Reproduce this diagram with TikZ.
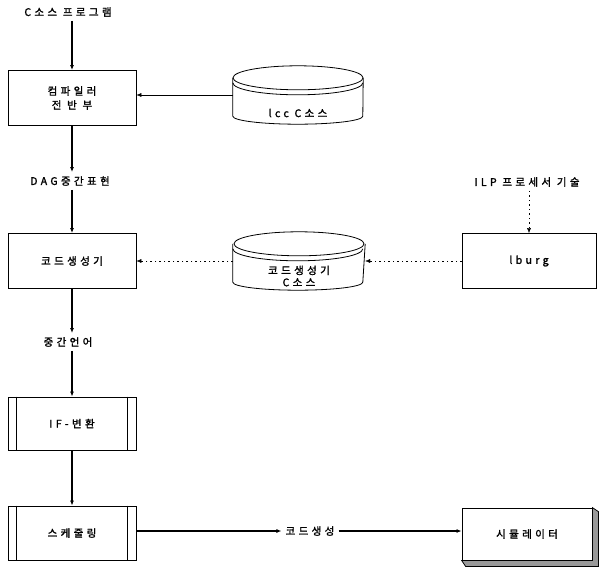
\documentclass[tikz,border=0pt]{standalone}
\usepackage{fontspec}
\newfontfamily\kr[LetterSpace=32,FakeBold=1.6]{Noto Sans CJK KR}
\usepackage{tikz}
\usetikzlibrary{arrows.meta,positioning,calc}

% draws a disk (cylinder with a rim) round an empty node
\newcommand\drawdisk[1]{%
  \draw[thick,fill=white] ([yshift=-12pt]#1.north west) -- ([yshift=8pt]#1.south west)
    arc[start angle=180,end angle=360,x radius=65pt,y radius=8pt]
    -- ([yshift=-12pt]#1.north east);
  \draw[thick,fill=white] ([yshift=-12pt]#1.north) ellipse [x radius=65pt,y radius=12pt];
  \draw[thick] ([yshift=-17pt]#1.north west)
    arc[start angle=180,end angle=360,x radius=65pt,y radius=12pt];
}

\begin{document}
\begin{tikzpicture}[x=1pt,y=-1pt,
    lbl/.style={font=\kr\fontsize{10.5}{13}\selectfont,inner sep=4pt,align=center},
    procbox/.style={draw,thick,minimum width=128pt,minimum height=55pt,font=\kr\fontsize{10.5}{14}\selectfont,align=center},
    diskbox/.style={minimum width=130pt,minimum height=58pt,inner sep=0pt},
    flow/.style={draw,line width=1.1pt,-{Latex[length=5pt,width=4pt]}},
    feed/.style={draw,thin,-{Latex[length=5pt,width=4pt]}},
    dotflow/.style={draw,thin,dash pattern=on 1.5pt off 3pt,-{Latex[length=5pt,width=4pt]}}
  ]
  \useasboundingbox (0,0) rectangle (599,569);

  % main column
  \node[lbl] (src) at (68,12) {C소스 프로그램};
  \node[procbox] (fe) at (72,98) {컴파일러\\전 반 부};
  \node[lbl] (dag) at (70,181) {DAG중간표현};
  \node[procbox] (cg) at (72,261) {코드생성기};
  \node[lbl] (mid) at (68,342) {중간언어};
  \node[procbox,minimum height=53pt] (ifc) at (72,423.5) {IF-변환};
  \node[procbox,minimum height=54pt] (sch) at (72,533) {스케줄링};
  \draw (ifc.north west) ++(9,0) -- ([xshift=9pt]ifc.south west);
  \draw (ifc.north east) ++(-9,0) -- ([xshift=-9pt]ifc.south east);
  \draw (sch.north west) ++(9,0) -- ([xshift=9pt]sch.south west);
  \draw (sch.north east) ++(-9,0) -- ([xshift=-9pt]sch.south east);

  % disks
  \node[diskbox] (c1) at (298,95) {};
  \drawdisk{c1}
  \node[lbl] (c1t) at (298,113) {lcc C소스};
  \node[diskbox,minimum width=132pt] (c2) at (299,261) {};
  \drawdisk{c2}
  \node[lbl,font=\kr\fontsize{10.5}{12}\selectfont] (c2t) at (299,276) {코드생성기\\C소스};

  % right side
  \node[lbl] (ilp) at (527,182) {ILP 프로세서 기술};
  \node[procbox,minimum width=134pt] (lb) at (529,261) {lburg};
  \node[lbl] (gen) at (310,531) {코드생성};
  \node[procbox,minimum width=130pt,minimum height=52pt] (sim) at (527,534) {시뮬레이터};
  \filldraw[thick,fill=black!40] (sim.south west) -- ++(4,6) -- ([shift={(6,6)}]sim.south east)
    -- ([shift={(6,4)}]sim.north east) -- (sim.north east) -- (sim.south east) -- cycle;

  % connectors
  \draw[flow] (src.south-|fe.north) -- (fe.north);
  \draw[flow] (fe.south) -- (fe.south|-dag.north);
  \draw[flow] (dag.south-|cg.north) -- (cg.north);
  \draw[flow] (cg.south) -- (cg.south|-mid.north);
  \draw[flow] (mid.south-|ifc.north) -- (ifc.north);
  \draw[flow] (ifc) -- (sch);
  \draw[flow] (sch.east|-gen) -- (gen);
  \draw[flow] (gen) -- (sim.west|-gen);
  \draw[feed] (c1.west) -- (fe.east|-c1.west);
  \draw[dotflow] (c2.west) -- (cg.east|-c2.west);
  \draw[dotflow] (lb.west) -- (c2.east|-lb.west);
  \draw[dotflow] (ilp.south-|lb.north) -- (lb.north);
\end{tikzpicture}
\end{document}
